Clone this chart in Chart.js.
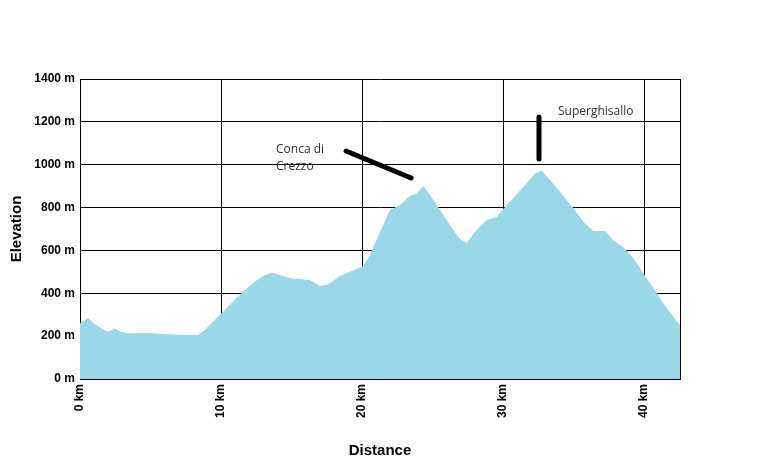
<!DOCTYPE html>
<html>
<head>
<meta charset="utf-8">
<script src="https://cdn.jsdelivr.net/npm/chart.js@4"></script>
<style>
  html, body { margin: 0; padding: 0; background: #fff; }
  #box { width: 760px; height: 460px; }
</style>
</head>
<body>
<div id="box"><canvas id="perfil"></canvas></div>
<script>
const distKm = [0, 0.57, 1.04, 1.51, 1.99, 2.46, 2.93, 3.4, 4.82, 5.77, 6.95, 8.37, 8.84, 10.02,
  11.44, 12.38, 13.09, 13.69, 14.89, 16.31, 17.02, 17.61, 18.44, 19.15, 20.09, 20.57, 21.28, 21.99,
  22.7, 23.4, 23.88, 24.35, 24.82, 25.53, 26.24, 26.95, 27.42, 28.13, 28.84, 29.55, 30.26, 31.68,
  32.27, 32.74, 33.33, 34.04, 34.99, 35.7, 36.4, 37.23, 37.82, 38.53, 39.24, 39.95, 40.66, 41.37,
  42.08, 42.55]
const quotaM = [260, 283, 257, 236, 221, 236, 221, 213, 215, 210, 207, 205, 229, 306,
  400, 454, 485, 496, 470, 462, 434, 442, 481, 501, 527, 579, 687, 789,
  812, 854, 866, 901, 859, 789, 719, 652, 636, 695, 742, 757, 812, 913,
  960, 972, 929, 874, 797, 734, 691, 691, 649, 615, 563, 493, 423, 353,
  291, 252]

const yTicks = [0, 200, 400, 600, 800, 1000, 1200, 1400]
const xTicks = [0, 10, 20, 30, 40]

// note sul grafico (in coordinate dei dati)
const note = [
  { testo: ['Conca di', 'Crezzo'], tx: 13.9, ty: 1069, linea: [18.87, 1064, 23.48, 938] },
  { testo: ['Superghisallo'], tx: 33.9, ty: 1246, linea: [32.55, 1223, 32.55, 1027] }
]

const pluginNote = {
  id: 'note',
  afterDatasetsDraw(chart) {
    const { ctx, scales: { x, y }, chartArea } = chart
    ctx.save()
    // bordo destro dell'area
    ctx.strokeStyle = '#000'
    ctx.lineWidth = 1
    ctx.beginPath()
    ctx.moveTo(chartArea.right + 0.5, chartArea.top)
    ctx.lineTo(chartArea.right + 0.5, chartArea.bottom)
    ctx.stroke()

    note.forEach(n => {
      ctx.strokeStyle = '#000'
      ctx.lineWidth = 5
      ctx.lineCap = 'round'
      ctx.beginPath()
      ctx.moveTo(x.getPixelForValue(n.linea[0]), y.getPixelForValue(n.linea[1]))
      ctx.lineTo(x.getPixelForValue(n.linea[2]), y.getPixelForValue(n.linea[3]))
      ctx.stroke()

      ctx.fillStyle = '#333'
      ctx.font = '12px "Open Sans"'
      ctx.textBaseline = 'middle'
      ctx.textAlign = 'left'
      n.testo.forEach((t, i) => {
        ctx.fillText(t, x.getPixelForValue(n.tx), y.getPixelForValue(n.ty) + i * 17)
      })
    })
    ctx.restore()
  }
}

new Chart(document.getElementById('perfil'), {
  type: 'line',
  data: {
    datasets: [{
      data: distKm.map((d, i) => ({ x: d, y: quotaM[i] })),
      fill: 'origin',
      backgroundColor: 'rgb(154,216,232)',
      borderWidth: 0,
      pointRadius: 0,
      tension: 0
    }]
  },
  plugins: [pluginNote],
  options: {
    responsive: true,
    maintainAspectRatio: false,
    animation: false,
    layout: { padding: { top: 79, right: 80, left: 0, bottom: 0 } },
    plugins: { legend: { display: false }, tooltip: { enabled: false } },
    scales: {
      x: {
        type: 'linear',
        min: 0,
        max: 42.55,
        afterBuildTicks: s => { s.ticks = xTicks.map(v => ({ value: v })) },
        afterFit: s => { s.height = 81 },
        grid: { color: '#000', drawTicks: false, lineWidth: 1 },
        border: { color: '#000' },
        ticks: {
          minRotation: 90,
          maxRotation: 90,
          padding: 5,
          color: '#000',
          font: { family: '"Liberation Sans", Arial', size: 12, weight: 'bold' },
          callback: v => v + ' km'
        },
        title: {
          display: true,
          text: 'Distance',
          color: '#000',
          padding: { top: 0, bottom: 0 },
          font: { family: '"Liberation Sans", Arial', size: 15, weight: 'bold' }
        }
      },
      y: {
        min: 0,
        max: 1400,
        afterBuildTicks: s => { s.ticks = yTicks.map(v => ({ value: v })) },
        afterFit: s => { s.width = 80 },
        grid: { color: '#000', drawTicks: false, lineWidth: 1 },
        border: { color: '#000' },
        ticks: {
          padding: 5,
          color: '#000',
          font: { family: '"Liberation Sans", Arial', size: 12, weight: 'bold' },
          callback: v => v + ' m'
        },
        title: {
          display: true,
          text: 'Elevation',
          color: '#000',
          padding: { top: 8, bottom: 0 },
          font: { family: '"Liberation Sans", Arial', size: 15, weight: 'bold' }
        }
      }
    }
  }
})
</script>
</body>
</html>
